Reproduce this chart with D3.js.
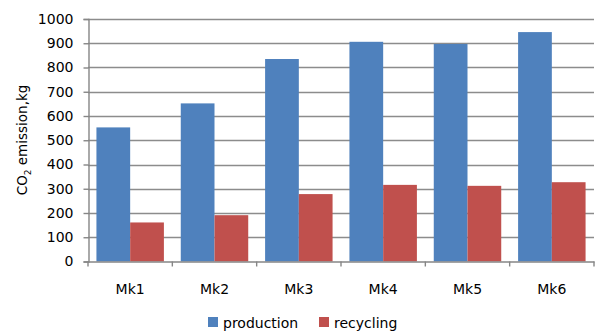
<!DOCTYPE html>
<html>
<head>
<meta charset="utf-8">
<script src="https://cdn.jsdelivr.net/npm/d3@7"></script>
<style>
  body { margin: 0; background: #fff; }
  text { font-family: "DejaVu Sans", sans-serif; fill: #000; }
</style>
</head>
<body>
<script>
// chart data
var categories = ["Mk1", "Mk2", "Mk3", "Mk4", "Mk5", "Mk6"];
var seriesNames = ["production", "recycling"];
var production = [553, 652, 835, 906, 897, 946];
var recycling = [161, 191, 278, 316, 312, 327];
var yTicks = [0, 100, 200, 300, 400, 500, 600, 700, 800, 900, 1000];
var colors = ["#4f81bd", "#c0504d"];

var width = 597,
    height = 333,
    margin = {top: 19, right: 3, bottom: 72, left: 88};

var svg = d3.select("body")
    .append("svg")
    .attr("width", width)
    .attr("height", height);

var x = d3.scaleBand()
    .domain(categories)
    .range([margin.left, width - margin.right])
    .paddingInner(0)
    .paddingOuter(0);

var inner = d3.scaleBand()
    .domain(seriesNames)
    .range([0, x.bandwidth()])
    .paddingOuter(0.25)
    .paddingInner(0);

var y = d3.scaleLinear()
    .domain([0, 1000])
    .range([height - margin.bottom + 0.5, margin.top]);

//gridlines
svg.append("g")
    .selectAll("line")
    .data(yTicks.slice(1))
    .enter()
    .append("line")
    .attr("x1", margin.left)
    .attr("x2", width - margin.right)
    .attr("y1", function(d){ return Math.round(y(d)) + 0.5; })
    .attr("y2", function(d){ return Math.round(y(d)) + 0.5; })
    .attr("stroke", "#8c8c8c")
    .attr("stroke-width", 1.4);

//bars
var rows = categories.map(function(c, i){
    return {cat: c, values: [
        {name: "production", v: production[i]},
        {name: "recycling", v: recycling[i]}
    ]};
});

var groups = svg.selectAll(".cat")
    .data(rows)
    .enter()
    .append("g")
    .attr("class", "cat")
    .attr("transform", function(d){ return "translate(" + x(d.cat) + ",0)"; });

groups.selectAll("rect")
    .data(function(d){ return d.values; })
    .enter()
    .append("rect")
    .attr("x", function(d){ return inner(d.name); })
    .attr("width", inner.bandwidth())
    .attr("y", function(d){ return y(d.v); })
    .attr("height", function(d){ return y(0) - y(d.v); })
    .attr("fill", function(d, i){ return colors[i]; });

//y axis
var yAxis = d3.axisLeft(y)
    .tickValues(yTicks)
    .tickFormat(d3.format("d"))
    .tickSize(5)
    .tickPadding(10);

var yg = svg.append("g")
    .attr("transform", "translate(" + (margin.left + 0.5) + ",0)")
    .call(yAxis);
yg.selectAll("text").style("font-size", "14px");

//x axis
var xAxis = d3.axisBottom(x)
    .tickSize(0)
    .tickPadding(23);

var xg = svg.append("g")
    .attr("transform", "translate(0," + (y(0)) + ")")
    .call(xAxis);
xg.selectAll("text").style("font-size", "14px");

// boundary ticks between categories
xg.selectAll(".bound")
    .data(categories.concat(["end"]))
    .enter()
    .append("line")
    .attr("class", "bound")
    .attr("x1", function(d, i){ return i < categories.length ? x(d) : x.range()[1]; })
    .attr("x2", function(d, i){ return i < categories.length ? x(d) : x.range()[1]; })
    .attr("y1", 0)
    .attr("y2", 5)
    .attr("stroke", "#868686")
    .attr("stroke-width", 1.4);

svg.selectAll(".domain, .tick line")
    .attr("stroke", "#868686")
    .attr("stroke-width", 1.4);

//y axis title
var title = svg.append("text")
    .attr("transform", "translate(27," + 140 + ") rotate(-90)")
    .attr("text-anchor", "middle")
    .style("font-size", "13.5px");
title.append("tspan").text("CO");
title.append("tspan").attr("dy", 4).style("font-size", "9px").text("2");
title.append("tspan").attr("dy", -4).text(" emission,kg");

//legend
var legendX = [208, 319];
var legend = svg.selectAll(".legend")
    .data(seriesNames)
    .enter()
    .append("g")
    .attr("class", "legend")
    .attr("transform", function(d, i){ return "translate(" + legendX[i] + ",317)"; });

legend.append("rect")
    .attr("width", 10)
    .attr("height", 10)
    .attr("fill", function(d, i){ return colors[i]; });

legend.append("text")
    .attr("x", 15)
    .attr("y", 11)
    .style("font-size", "14px")
    .text(function(d){ return d; });
</script>
</body>
</html>
